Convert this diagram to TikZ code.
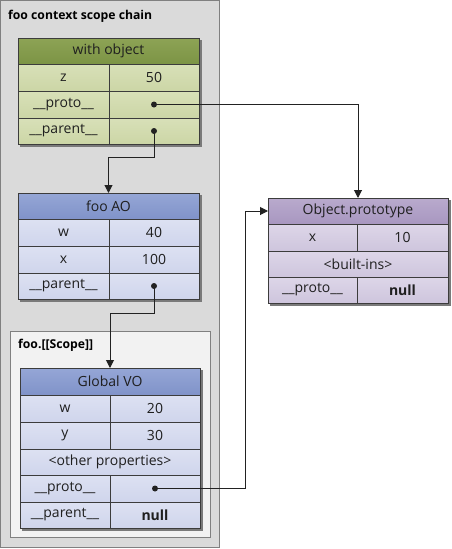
\documentclass[tikz,border=0pt]{standalone}
\usepackage{fontspec}
\setmainfont{Open Sans}
\usetikzlibrary{arrows.meta}
\definecolor{outerfill}{HTML}{DADADA}
\definecolor{outerline}{HTML}{808080}
\definecolor{scopefill}{HTML}{F2F2F2}
\definecolor{cellline}{HTML}{3C3C3C}
\definecolor{shadowc}{HTML}{7A7A7A}
\definecolor{gHtop}{HTML}{8DA355}
\definecolor{gHbot}{HTML}{7C9445}
\definecolor{gRtop}{HTML}{D8E0B8}
\definecolor{gRbot}{HTML}{CCD6A6}
\definecolor{bHtop}{HTML}{95A6D6}
\definecolor{bHbot}{HTML}{8093C9}
\definecolor{bRtop}{HTML}{DDE1F2}
\definecolor{bRbot}{HTML}{CFD5EC}
\definecolor{pHtop}{HTML}{B9AACD}
\definecolor{pHbot}{HTML}{A897C0}
\definecolor{pRtop}{HTML}{DDD6E8}
\definecolor{pRbot}{HTML}{CEC5DD}
\definecolor{linec}{HTML}{222222}
\newcommand\mkcell[7]{\node[#7,minimum width={(#4-#2)*1pt},minimum height={(#5-#3)*1pt}] (#1) at ({(#2+#4)/2},{(#3+#5)/2}) {#6};}
\tikzset{
  x=1pt, y=-1pt,
  cellbase/.style={draw=cellline, line width=0.9pt, inner sep=0pt, outer sep=0pt, font=\fontsize{14}{16}\selectfont, text=black!88},
  greenhead/.style={cellbase, top color=gHtop, bottom color=gHbot},
  greenrow/.style={cellbase, top color=gRtop, bottom color=gRbot},
  bluehead/.style={cellbase, top color=bHtop, bottom color=bHbot},
  bluerow/.style={cellbase, top color=bRtop, bottom color=bRbot},
  purphead/.style={cellbase, top color=pHtop, bottom color=pHbot},
  purprow/.style={cellbase, top color=pRtop, bottom color=pRbot},
  dotnode/.style={circle, fill=linec, inner sep=0pt, minimum size=6pt},
  conn/.style={draw=linec, line width=1pt},
  arr/.style={conn, -{Triangle[length=8pt,width=8pt]}},
  titletext/.style={font=\fontsize{12.2}{14}\selectfont\bfseries, inner sep=0pt, anchor=base west},
}
\begin{document}
\begin{tikzpicture}
\useasboundingbox (0,0) rectangle (451,549);
% outer container
\fill[outerfill, draw=outerline, line width=1pt] (0.5,0.5) rectangle (219,547);
\node[titletext] (title) at (8,19.5) {foo context scope chain};
% scope container
\fill[scopefill, draw=outerline, line width=1pt] (10,331) rectangle (210,537);
\node[titletext] (scopetitle) at (18,348.5) {foo.[[Scope]]};
% shadows
\fill[shadowc] (20,40) rectangle (201.5,146.5);
\fill[shadowc] (20,195) rectangle (201.5,301.5);
\fill[shadowc] (22,370) rectangle (202.5,530.5);
\fill[shadowc] (270,200) rectangle (450.5,305.5);
% with object
\mkcell{wH}{18}{38}{199}{64}{with object}{greenhead}
\mkcell{wzL}{18}{64}{109}{91}{z}{greenrow}
\mkcell{wzR}{109}{64}{199}{91}{50}{greenrow}
\mkcell{wpL}{18}{91}{109}{118}{\_\_proto\_\_}{greenrow}
\mkcell{wpR}{109}{91}{199}{118}{}{greenrow}
\mkcell{wrL}{18}{118}{109}{144}{\_\_parent\_\_}{greenrow}
\mkcell{wrR}{109}{118}{199}{144}{}{greenrow}
% foo AO
\mkcell{aH}{18}{193}{199}{219}{foo AO}{bluehead}
\mkcell{awL}{18}{219}{109}{246}{w}{bluerow}
\mkcell{awR}{109}{219}{199}{246}{40}{bluerow}
\mkcell{axL}{18}{246}{109}{273}{x}{bluerow}
\mkcell{axR}{109}{246}{199}{273}{100}{bluerow}
\mkcell{arL}{18}{273}{109}{299}{\_\_parent\_\_}{bluerow}
\mkcell{arR}{109}{273}{199}{299}{}{bluerow}
% Global VO
\mkcell{gH}{20}{368}{200}{395}{Global VO}{bluehead}
\mkcell{gwL}{20}{395}{110}{422}{w}{bluerow}
\mkcell{gwR}{110}{395}{200}{422}{20}{bluerow}
\mkcell{gyL}{20}{422}{110}{449}{y}{bluerow}
\mkcell{gyR}{110}{422}{200}{449}{30}{bluerow}
\mkcell{goP}{20}{449}{200}{475}{<other properties>}{bluerow}
\mkcell{gpL}{20}{475}{110}{502}{\_\_proto\_\_}{bluerow}
\mkcell{gpR}{110}{475}{200}{502}{}{bluerow}
\mkcell{grL}{20}{502}{110}{528}{\_\_parent\_\_}{bluerow}
\mkcell{grR}{110}{502}{200}{528}{\textbf{null}}{bluerow}
% Object.prototype
\mkcell{oH}{268}{198}{448}{224}{Object.prototype}{purphead}
\mkcell{oxL}{268}{224}{357}{251}{x}{purprow}
\mkcell{oxR}{357}{224}{448}{251}{10}{purprow}
\mkcell{obI}{268}{251}{448}{277}{<built-ins>}{purprow}
\mkcell{opL}{268}{277}{357}{303}{\_\_proto\_\_}{purprow}
\mkcell{opR}{357}{277}{448}{303}{\textbf{null}}{purprow}
% dots
\node[dotnode] (wpd) at (wpR.center) {};
\node[dotnode] (wrd) at (wrR.center) {};
\node[dotnode] (ard) at (arR.center) {};
\node[dotnode] (gpd) at (gpR.center) {};
% bend coordinates
\coordinate (b1) at (108.5,157);
\coordinate (b2) at (110,313);
\coordinate (b3) at (245,488.5);
% connectors
\draw[arr] (wpd.center) -| (oH.north);
\draw[arr] (wrd.center) |- (b1) -- (aH.north);
\draw[arr] (ard.center) |- (b2) -- (gH.north);
\draw[arr] (gpd.center) -- (b3) |- (oH.west);
\end{tikzpicture}
\end{document}
